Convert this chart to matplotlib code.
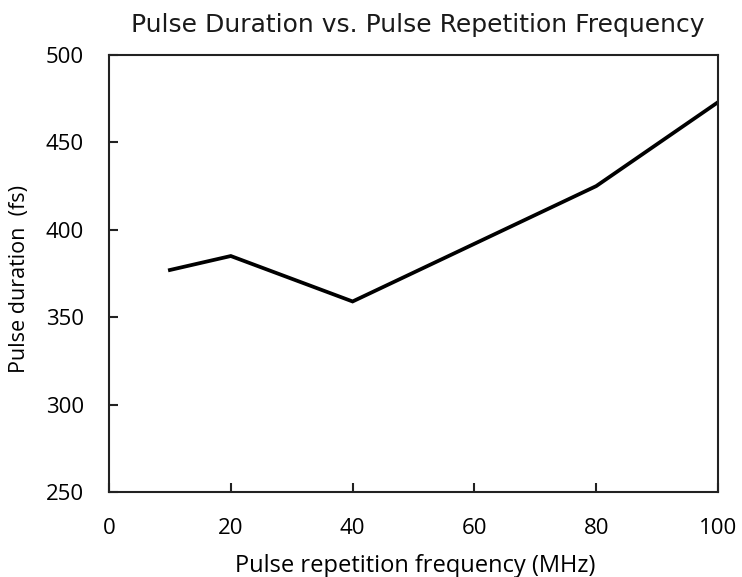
import matplotlib
matplotlib.use('Agg')
import matplotlib.pyplot as plt

# Data
freq_mhz = [10, 20, 40, 80, 100]
duration_fs = [377, 385, 359, 425, 473]
x_ticks = [0, 20, 40, 60, 80, 100]
y_ticks = [250, 300, 350, 400, 450, 500]

plt.rcParams['font.family'] = ['Open Sans', 'DejaVu Sans']

fig = plt.figure(figsize=(7.42, 5.77), dpi=100)
ax = fig.add_axes([109 / 742, 1 - 492 / 577, (718 - 109) / 742, (492 - 55) / 577])

ax.plot(freq_mhz, duration_fs, color='black', linewidth=2.7, solid_joinstyle='miter')

ax.set_xlim(0, 100)
ax.set_ylim(250, 500)
ax.set_xticks(x_ticks)
ax.set_yticks(y_ticks)
ax.tick_params(direction='in', length=6.5, width=1.5, color='#222222', labelsize=16)
ax.tick_params(axis='x', pad=19)
ax.tick_params(axis='y', pad=18)
for spine in ax.spines.values():
    spine.set_linewidth(1.5)
    spine.set_color('#222222')

# title in a wide face, set on its baseline just above the frame
ax.set_title('Pulse Duration vs. Pulse Repetition Frequency', fontsize=18,
             family=['DejaVu Sans'], color='#1a1a1a', pad=0,
             y=(492 - 32) / 437, va='baseline', x=0.507)
xl = ax.set_xlabel('Pulse repetition frequency (MHz)', fontsize=17, va='baseline')
ax.xaxis.set_label_coords(0.502, (492 - 572) / 437)
yl = ax.set_ylabel('Pulse duration  (fs)', fontsize=15.5, va='center')
ax.yaxis.set_label_coords((20 - 109) / 609, (492 - 279) / 437)

fig.savefig('out.png', dpi=100)
